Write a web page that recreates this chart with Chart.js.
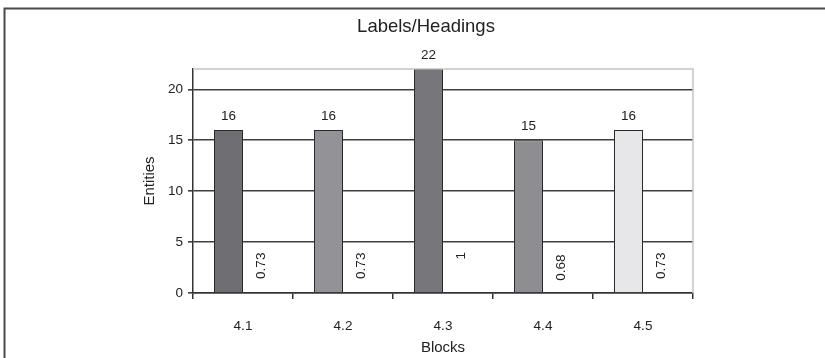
<!DOCTYPE html>
<html>
<head>
<meta charset="utf-8">
<title>Labels/Headings</title>
<script src="https://cdn.jsdelivr.net/npm/chart.js@4/dist/chart.umd.min.js"></script>
<style>
  html, body { margin: 0; padding: 0; background: #ffffff; }
  canvas { display: block; }
</style>
</head>
<body>
<canvas id="chart" width="825" height="358"></canvas>
<script>
// Blocks and their entity counts, plus the ratio shown beside each bar
const categories = ['4.1', '4.2', '4.3', '4.4', '4.5'];
const entities = [16, 16, 22, 15, 16];
const ratios = [0.73, 0.73, 1, 0.68, 0.73];
const barColors = ['#6f6f73', '#939397', '#77777b', '#8e8e92', '#e7e7e9'];

const FONT = 'Liberation Sans, Arial, sans-serif';
const TEXT = '#222222';

// Frame, headings and value labels
const decorations = {
  id: 'decorations',
  beforeDraw(chart) {
    const ctx = chart.ctx;
    ctx.save();
    ctx.fillStyle = '#ffffff';
    ctx.fillRect(0, 0, chart.width, chart.height);
    ctx.restore();
  },
  afterDraw(chart) {
    const ctx = chart.ctx;
    const a = chart.chartArea;
    ctx.save();

    // light border on the top and right of the plot area
    ctx.strokeStyle = '#c4c4c4';
    ctx.lineWidth = 1.5;
    ctx.beginPath();
    ctx.moveTo(a.left, a.top);
    ctx.lineTo(a.right, a.top);
    ctx.lineTo(a.right, a.bottom);
    ctx.stroke();

    // outer frame
    ctx.strokeStyle = '#4a4a4a';
    ctx.lineWidth = 2;
    ctx.beginPath();
    ctx.moveTo(4.5, chart.height + 5);
    ctx.lineTo(4.5, 8.5);
    ctx.lineTo(chart.width + 5, 8.5);
    ctx.stroke();

    ctx.fillStyle = TEXT;

    // chart title
    ctx.font = '18.5px ' + FONT;
    ctx.textAlign = 'center';
    ctx.textBaseline = 'middle';
    ctx.fillText('Labels/Headings', 426, 27);

    // axis titles
    ctx.font = '15px ' + FONT;
    ctx.fillText('Blocks', (a.left + a.right) / 2, 348);
    ctx.save();
    ctx.translate(150, (a.top + a.bottom) / 2);
    ctx.rotate(-Math.PI / 2);
    ctx.fillText('Entities', 0, 0);
    ctx.restore();

    // counts above the bars
    ctx.font = '13.5px ' + FONT;
    chart.getDatasetMeta(0).data.forEach((bar, i) => {
      ctx.fillText(String(entities[i]), bar.x, bar.y - 14);
    });

    // ratios, rotated, in the middle of their bars
    chart.getDatasetMeta(1).data.forEach((bar, i) => {
      ctx.save();
      ctx.translate(bar.x + 4, (bar.y + bar.base) / 2);
      ctx.rotate(-Math.PI / 2);
      ctx.textAlign = 'center';
      ctx.textBaseline = 'middle';
      ctx.fillText(String(ratios[i]), 0, 0);
      ctx.restore();
    });

    ctx.restore();
  }
};

new Chart(document.getElementById('chart'), {
  type: 'bar',
  data: {
    labels: categories,
    datasets: [
      {
        data: entities,
        backgroundColor: barColors,
        borderColor: '#2a2a2a',
        borderWidth: 1,
        yAxisID: 'y',
        categoryPercentage: 0.58,
        barPercentage: 1.0
      },
      {
        data: ratios,
        backgroundColor: 'rgba(0,0,0,0)',
        borderWidth: 0,
        yAxisID: 'y2',
        categoryPercentage: 0.58,
        barPercentage: 1.0
      }
    ]
  },
  options: {
    responsive: false,
    animation: false,
    events: [],
    layout: { padding: { top: 69, right: 132, left: 0, bottom: 0 } },
    plugins: {
      legend: { display: false },
      tooltip: { enabled: false },
      title: { display: false }
    },
    scales: {
      x: {
        grid: {
          display: true,
          drawOnChartArea: false,
          offset: true,
          tickLength: 6,
          color: '#333333',
          lineWidth: 1.5
        },
        border: { color: '#333333', width: 1.5 },
        ticks: { font: { family: FONT, size: 13.5 }, color: TEXT, padding: 19 },
        afterFit: (s) => { s.height = 65; }
      },
      y: {
        min: 0,
        max: 22,
        ticks: {
          stepSize: 5,
          includeBounds: false,
          font: { family: FONT, size: 13.5 },
          color: TEXT,
          padding: 5
        },
        grid: { color: '#3f3f3f', lineWidth: 1.6, tickLength: 5 },
        border: { color: '#333333', width: 1.5 },
        afterFit: (s) => { s.width = 193; }
      },
      y2: {
        display: false,
        min: 0,
        max: 3
      }
    }
  },
  plugins: [decorations]
});
</script>
</body>
</html>
